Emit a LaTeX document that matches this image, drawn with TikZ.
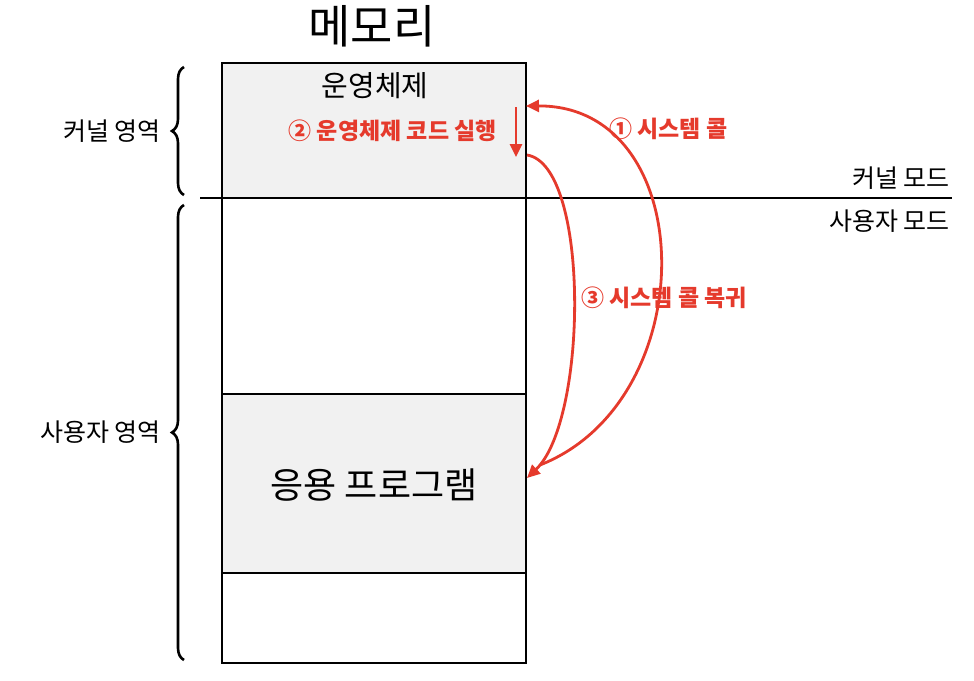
\documentclass[tikz,border=0pt]{standalone}
\usepackage{fontspec}
\setmainfont{Noto Sans CJK KR}
\usetikzlibrary{decorations.pathreplacing,arrows.meta}
\definecolor{myred}{HTML}{E53A2C}
\definecolor{lgray}{HTML}{F1F1F1}
\begin{document}
\begin{tikzpicture}[x=1pt,y=-1pt,
  lbl/.style={font=\fontsize{25}{28}\selectfont},
  rlbl/.style={text=myred,font=\fontsize{23}{26}\selectfont\bfseries},
  rarr/.style={draw=myred,line width=2.8pt,-{Triangle[length=13pt,width=12pt]}},
  brc/.style={decorate,decoration={brace,amplitude=12pt},line width=2.6pt}]
\useasboundingbox (0,0) rectangle (974,680);
\fill[lgray] (222,63) rectangle (526,198);
\fill[lgray] (222,394) rectangle (526,573);
\draw[line width=2pt] (222,63) rectangle (526,663);
\draw[line width=2pt] (222,394) -- (526,394) (222,573) -- (526,573);
\draw[line width=2pt] (200,198) -- (952,198);
\node (title) at (372,26) {\fontsize{46}{50}\selectfont 메모리};
\node (os) at (375,86) {\fontsize{29}{32}\selectfont 운영체제};
\node (app) at (374,485) {\fontsize{36}{40}\selectfont 응용 프로그램};
\node[lbl,anchor=east,inner sep=0pt] (km) at (950,178) {커널 모드};
\node[lbl,anchor=east,inner sep=0pt] (um) at (950,221) {사용자 모드};
\draw[brc] (184,195) -- (184,67) node[midway,left=22pt,lbl,inner sep=0pt] (ka) {커널 영역};
\draw[brc] (184,660) -- (184,205) node[midway,left=22pt,lbl,inner sep=0pt] (ua) {사용자 영역};
\coordinate (a1s) at (540,465);
\coordinate (a1e) at (526,106);
\coordinate (a2s) at (516,107);
\coordinate (a2e) at (516,157);
\coordinate (a3s) at (527,155);
\coordinate (a3e) at (527,478);
\draw[rarr] (a1s) .. controls (705,400) and (700,105) .. (a1e);
\draw[rarr] (a3s) .. controls (590,165) and (588,420) .. (a3e);
\draw[rarr] (a2s) -- (a2e);
\node[rlbl,anchor=west,inner sep=0pt] (l1) at (609,129) {① 시스템 콜};
\node[rlbl,anchor=east,inner sep=0pt] (l2) at (497,131) {② 운영체제 코드 실행};
\node[rlbl,anchor=west,inner sep=0pt] (l3) at (581,298) {③ 시스템 콜 복귀};
\end{tikzpicture}
\end{document}
